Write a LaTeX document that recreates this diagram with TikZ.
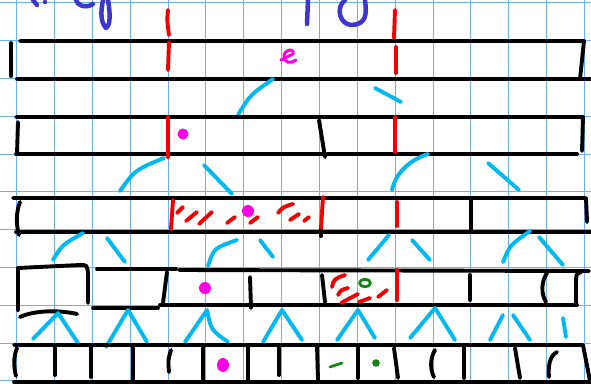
\documentclass[tikz,border=0pt]{standalone}
\definecolor{gridc}{RGB}{110,175,240}
\definecolor{inkred}{RGB}{240,0,0}
\definecolor{inkcyan}{RGB}{0,185,240}
\definecolor{inkmag}{RGB}{255,0,230}
\definecolor{inkgreen}{RGB}{20,130,20}
\definecolor{inkblue}{RGB}{60,55,200}
\tikzset{
  gridline/.style={draw=gridc, line width=1pt},
  ink/.style={line width=3.9pt, line cap=round, line join=round},
  blk/.style={ink, draw=black},
  rd/.style={ink, draw=inkred},
  cy/.style={ink, draw=inkcyan},
  gr/.style={ink, draw=inkgreen, line width=2.8pt},
  bl/.style={ink, draw=inkblue, line width=4.5pt},
  mg/.style={ink, draw=inkmag},
}
\begin{document}
\begin{tikzpicture}[x=1pt,y=-1pt]
\useasboundingbox (0,0) rectangle (591,383);
\clip (0,0) rectangle (591,383);
\fill[white] (0,0) rectangle (591,383);
% grid
\foreach \i in {0,...,15} \draw[gridline] ({16.7+37.85*\i},0) -- ++(0,383);
\foreach \j in {0,...,10} \draw[gridline] (0,{2.9+37.8*\j}) -- ++(591,0);

% handwriting at top (cut off)
\draw[bl] (33,0) -- (37,5);
\fill[inkblue] (45,2) circle (2.2);
\draw[bl] (93,4) .. controls (85,9) and (77,5) .. (76,0);
\draw[bl] (103,0) .. controls (101,10) and (100,22) .. (106,28) .. controls (111,25) and (110,12) .. (108,0);
\draw[bl] (308,0) -- (307,24);
\draw[bl] (345,0) .. controls (335,8) and (340,25) .. (352,25) .. controls (366,24) and (367,15) .. (365,0);

% tier 1
\draw[blk] (20,41) -- (584,41) -- (580,79);
\draw[blk] (17,79) -- (591,79);
\draw[blk] (11,43) -- (11,76);
\draw[rd] (168,10) .. controls (167,20) .. (169,35);
\draw[rd] (169,42) -- (168,70);
\draw[rd] (395,10) -- (394,38);
\draw[rd] (396,47) -- (396,73);
\draw[mg, line width=3pt] (281,60) -- (293,54) .. controls (296,49) and (286,48) .. (284,55) .. controls (283,63) and (291,64) .. (296,60);

% tier 1 -> 2
\draw[cy] (238,115) .. controls (250,95) .. (273,79);
\draw[cy] (375,88) -- (401,102);

% tier 2
\draw[blk] (16,117) -- (583,117) -- (582,151);
\draw[blk] (16,154) -- (577,154);
\draw[blk] (18,122) -- (17,154);
\draw[blk] (319,120) -- (325,157);
\draw[rd] (168,117) -- (168,157);
\draw[rd] (395,117) -- (395,152);
\fill[inkmag] (183,134) circle (5.5);

% tier 2 -> 3
\draw[cy] (120,191) .. controls (135,170) .. (164,158);
\draw[cy] (204,165) -- (232,194);
\draw[cy] (392,190) .. controls (396,172) and (410,160) .. (428,154);
\draw[cy] (488,163) -- (519,190);

% tier 3
\draw[blk] (13,198) -- (586,198) -- (587,222);
\draw[blk] (16,232) -- (591,232);
\draw[blk] (20,202) .. controls (16,212) and (16,225) .. (19,235);
\draw[blk] (471,199) -- (471,231);
\draw[blk] (321,228) -- (321,236);
\draw[rd] (173,200) -- (171,229);
\draw[rd] (323,197) -- (321,228);
\draw[rd] (397,202) -- (397,226);
\draw[rd] (177,213) -- (183,207);
\draw[rd] (186,221) -- (197,212);
\draw[rd] (199,224) -- (212,212);
\draw[rd] (227,223) -- (235,217);
\draw[rd] (250,223) -- (258,217);
\draw[rd] (278,213) .. controls (283,207) .. (293,204);
\draw[rd] (290,220) -- (299,214);
\draw[rd] (304,221) -- (309,217);
\fill[inkmag] (248,211) circle (6);

% tier 3 -> 4
\draw[cy] (53,260) .. controls (62,245) .. (83,233);
\draw[cy] (107,238) -- (125,262);
\draw[cy] (208,266) .. controls (214,248) .. (237,240);
\draw[cy] (260,240) -- (273,257);
\draw[cy] (389,235) -- (368,260);
\draw[cy] (412,240) -- (430,260);
\draw[cy] (503,262) .. controls (510,245) .. (530,231);
\draw[cy] (539,237) -- (563,265);

% tier 4
\draw[blk] (18,268) -- (80,265) .. controls (87,265) .. (88,273) -- (88,303);
\draw[blk] (18,268) -- (18,310);
\draw[blk] (20,317) .. controls (35,310) and (60,310) .. (77,314);
\draw[blk] (97,269) -- (176,269);
\draw[blk] (179,270) -- (589,271);
\draw[blk] (93,308) -- (158,308);
\draw[blk] (167,272) -- (163,303);
\draw[blk] (160,305) -- (577,305);
\draw[blk] (250,277) -- (251,308);
\draw[blk] (322,275) -- (325,302);
\draw[blk] (470,275) -- (470,300);
\draw[blk] (547,273) .. controls (541,282) and (541,294) .. (546,302);
\draw[blk] (581,272) .. controls (576,274) .. (576,285) -- (576,305);
\draw[rd] (397,270) -- (397,300);
\draw[rd] (332,287) .. controls (334,279) .. (345,275);
\draw[rd] (338,295) .. controls (341,290) .. (348,288);
\draw[rd] (341,303) -- (358,294);
\draw[rd] (359,302) -- (370,298);
\draw[rd] (378,297) -- (387,290);
\draw[gr] (365,283) ellipse (5.5 and 3.8);
\fill[inkmag] (205,288) circle (6);

% tier 4 -> 5
\draw[cy] (33,339) -- (58,313) -- (78,343);
\draw[cy] (106,347) -- (128,310) -- (147,342);
\draw[cy] (185,342) -- (207,310) .. controls (211,330) .. (228,342);
\draw[cy] (263,342) -- (282,310) -- (302,340);
\draw[cy] (337,340) -- (358,310) -- (375,338);
\draw[cy] (410,338) -- (435,308) -- (455,340);
\draw[cy] (490,340) -- (503,315);
\draw[cy] (513,315) -- (530,340);
\draw[cy] (563,318) -- (566,337);

% tier 5
\draw[blk] (14,345) -- (583,345) -- (590,381);
\draw[blk] (14,382) -- (591,382);
\draw[blk] (17,348) .. controls (13,358) and (14,368) .. (16,376);
\draw[blk] (55,347) -- (55,375);
\draw[blk] (91,347) -- (91,377);
\draw[blk] (133,347) -- (133,382);
\draw[blk] (171,350) .. controls (168,360) .. (169,372);
\draw[blk] (203,345) -- (203,382);
\draw[blk] (248,345) -- (248,382);
\draw[blk] (279,345) -- (279,375);
\draw[blk] (317,345) -- (318,380);
\draw[blk] (358,348) -- (358,378);
\draw[blk] (394,348) -- (398,378);
\draw[blk] (435,350) .. controls (430,358) and (430,370) .. (434,377);
\draw[blk] (464,345) -- (464,378);
\draw[blk] (515,348) -- (520,378);
\draw[blk] (557,352) .. controls (549,356) and (548,368) .. (549,377);
\fill[inkmag] (223,365) ellipse (6 and 7);
\draw[gr] (330,367) -- (342,363);
\fill[inkgreen] (376,363) circle (3.8);
\end{tikzpicture}
\end{document}
